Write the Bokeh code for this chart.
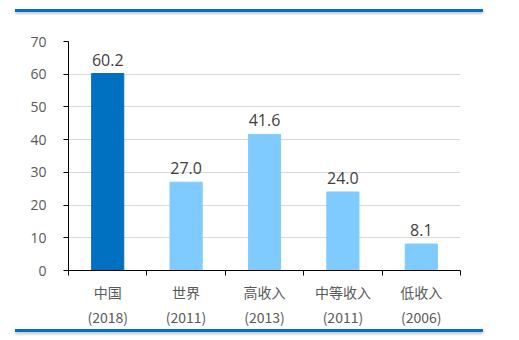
from bokeh.plotting import figure
from bokeh.models import ColumnDataSource, FixedTicker, Div
from bokeh.layouts import column
from bokeh.core.properties import value
from bokeh.embed import file_html
from bokeh.resources import INLINE

categories = ["中国\n(2018)", "世界\n(2011)", "高收入\n(2013)", "中等收入\n(2011)", "低收入\n(2006)"]
values = [60.2, 27.0, 41.6, 24.0, 8.1]
colors = ["#0070C0", "#7FCBFF", "#7FCBFF", "#7FCBFF", "#7FCBFF"]
y_ticks = [0, 10, 20, 30, 40, 50, 60, 70]

xs = list(range(1, len(categories) + 1))
src = ColumnDataSource(dict(x=xs, top=values, color=colors,
                            label=[f"{v:.1f}" for v in values]))

p = figure(width=519, height=326, x_range=(0.5, len(categories) + 0.5), y_range=(0, 70),
           output_backend="svg", toolbar_location=None,
           min_border_left=68, min_border_right=59, min_border_top=27, min_border_bottom=70)
p.outline_line_color = None
p.background_fill_color = "white"

p.vbar(x="x", top="top", width=0.41, color="color", source=src)
p.text(x="x", y="top", text="label", source=src, text_align="center", text_baseline="alphabetic",
       y_offset=-14, text_font=value("Open Sans"), text_font_size="16px", text_color="#404040")

p.xgrid.visible = False
p.ygrid.ticker = FixedTicker(ticks=y_ticks)
p.ygrid.grid_line_color = "#D9D9D9"

xa = p.xaxis[0]
xa.ticker = FixedTicker(ticks=xs, minor_ticks=[i + 0.5 for i in range(0, len(categories) + 1)])
xa.major_label_overrides = {i + 1: c for i, c in enumerate(categories)}
xa.major_tick_out = 0
xa.major_tick_in = 0
xa.minor_tick_out = 5
xa.minor_tick_in = 0
xa.minor_tick_line_color = "black"
xa.axis_line_color = "black"
xa.major_label_text_font = "Noto Sans CJK SC"
xa.major_label_text_font_size = "14px"
xa.major_label_text_color = "#595959"
xa.major_label_text_line_height = 1.25
xa.major_label_standoff = 6

ya = p.yaxis[0]
ya.ticker = FixedTicker(ticks=y_ticks)
ya.major_tick_out = 5
ya.major_tick_in = 0
ya.minor_tick_line_color = None
ya.axis_line_color = "black"
ya.major_label_text_font = "Open Sans"
ya.major_label_text_font_size = "14px"
ya.major_label_text_color = "#595959"
ya.major_label_standoff = 17

line_html = ('<div style="margin:{m}px 0 0 15px;width:468px;height:3px;'
             'background:#0070C0;box-shadow:0 2px 3px rgba(0,0,0,0.25)"></div>')
top_div = Div(text=line_html.format(m=3), width=519, height=14, margin=0)
bottom_div = Div(text=line_html.format(m=0), width=519, height=20, margin=(-20, 0, 0, 0))

layout = column(top_div, p, bottom_div, spacing=0, margin=0)
open("out.html", "w").write(file_html(layout, INLINE))
